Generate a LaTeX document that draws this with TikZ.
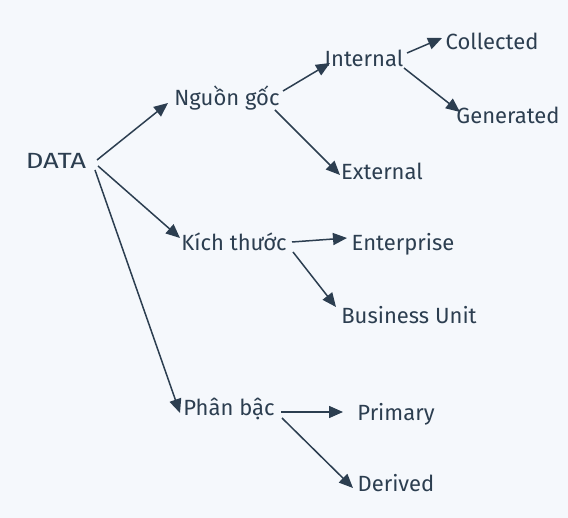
\documentclass[tikz,border=0pt]{standalone}
\usepackage{fontspec}
\setmainfont{Fira Sans}
\usetikzlibrary{arrows.meta}
\definecolor{ink}{HTML}{2C3E50}
\definecolor{bg}{HTML}{F5F8FC}
\begin{document}
\begin{tikzpicture}[x=1pt,y=-1pt,
  lbl/.style={text=ink,inner sep=0pt,font=\fontsize{22}{24}\selectfont},
  conn/.style={draw=ink,line width=1.5pt,-{Triangle[length=14pt,width=12pt]}}]
\fill[bg] (0,0) rectangle (568,518);
\useasboundingbox (0,0) rectangle (568,518);
\node[lbl] (data) at (56,161) {\scalebox{1.25}[1]{DATA}};
\node[lbl] (ng) at (227,98) {Nguồn gốc};
\node[lbl] (int) at (364,58) {Internal};
\node[lbl] (col) at (492,41) {Collected};
\node[lbl] (gen) at (508,115) {Generated};
\node[lbl] (ext) at (382,171) {External};
\node[lbl] (kt) at (234,242) {Kích thước};
\node[lbl] (ent) at (403,244) {Enterprise};
\node[lbl] (bu) at (409,315) {Business Unit};
\node[lbl] (pb) at (229,409) {Phân bậc};
\node[lbl] (pri) at (396,414) {Primary};
\node[lbl] (der) at (396,483) {Derived};
\draw[conn] ([shift={(41,-1)}]data.center) -- ([shift={(-59,5)}]ng.center);
\draw[conn] ([shift={(42,5)}]data.center) -- ([shift={(-54,-4)}]kt.center);
\draw[conn] ([shift={(39,9)}]data.center) -- ([shift={(-49,4)}]pb.center);
\draw[conn] ([shift={(56,-7)}]ng.center) -- ([shift={(-34,5)}]int.center);
\draw[conn] ([shift={(48,12)}]ng.center) -- ([shift={(-42,4)}]ext.center);
\draw[conn] ([shift={(43,-5)}]int.center) -- ([shift={(-50,-3)}]col.center);
\draw[conn] ([shift={(40,10)}]int.center) -- ([shift={(-48,-3)}]gen.center);
\draw[conn] ([shift={(58,0)}]kt.center) -- ([shift={(-56,-6)}]ent.center);
\draw[conn] ([shift={(59,10)}]kt.center) -- ([shift={(-73,-8)}]bu.center);
\draw[conn] ([shift={(52,3)}]pb.center) -- ([shift={(-53,-2)}]pri.center);
\draw[conn] ([shift={(53,9)}]pb.center) -- ([shift={(-43,5)}]der.center);
\end{tikzpicture}
\end{document}
